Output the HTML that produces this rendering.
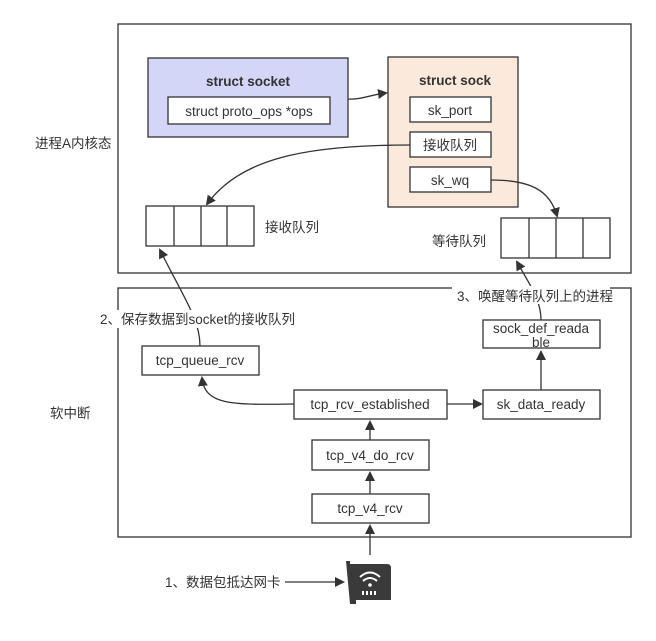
<!DOCTYPE html>
<html><head><meta charset="utf-8"><style>
body{margin:0;background:#fff;width:656px;height:636px;overflow:hidden}
svg text{font-family:"Liberation Sans","Noto Sans CJK SC",sans-serif;font-size:13.5px;fill:#333}
</style></head><body>
<svg width="656" height="636" viewBox="0 0 656 636" xmlns="http://www.w3.org/2000/svg">
<defs><marker id="a" markerWidth="10" markerHeight="10" refX="8" refY="5" orient="auto" markerUnits="userSpaceOnUse"><path d="M0,0 L10,5 L0,10 z" fill="#333"/></marker></defs>
<g fill="none" stroke="#333" stroke-width="1.3">
<rect x="118" y="24" width="513" height="249"/>
<rect x="118" y="288" width="513" height="249"/>
<rect x="148" y="58" width="200" height="79" fill="#d4d6f7"/>
<rect x="168" y="97" width="162" height="27" fill="#fff"/>
<rect x="388" y="57" width="130" height="150" fill="#fbe9db"/>
<rect x="410" y="97" width="81" height="25" fill="#fff"/>
<rect x="410" y="132" width="81" height="25" fill="#fff"/>
<rect x="410" y="167" width="81" height="25" fill="#fff"/>
<rect x="146" y="206" width="108" height="40" fill="#fff"/>
<path d="M174,206V246M201,206V246M227,206V246"/>
<rect x="501" y="218" width="109" height="40" fill="#fff"/>
<path d="M529,218V258M556,218V258M583,218V258"/>
<rect x="142" y="346" width="117" height="29" fill="#fff"/>
<rect x="294" y="390" width="153" height="29" fill="#fff"/>
<rect x="483" y="390" width="117" height="29" fill="#fff"/>
<rect x="483" y="320" width="117" height="28" fill="#fff"/>
<rect x="312" y="440" width="117" height="30" fill="#fff"/>
<rect x="312" y="494" width="117" height="29" fill="#fff"/>
<path d="M348,99 C360,100 370,95 386,93" marker-end="url(#a)"/>
<path d="M410,145 C300,145 240,160 207,204" marker-end="url(#a)"/>
<path d="M491,180 C530,180 550,190 557,216" marker-end="url(#a)"/>
<path d="M200,346 C200,320 185,300 160,250" marker-end="url(#a)"/>
<path d="M541,320 C541,300 530,285 517,262" marker-end="url(#a)"/>
<path d="M294,404 C230,405 205,405 202,378" marker-end="url(#a)"/>
<path d="M447,404H481" marker-end="url(#a)"/>
<path d="M541,390V352" marker-end="url(#a)"/>
<path d="M370,440V422" marker-end="url(#a)"/>
<path d="M370,494V473" marker-end="url(#a)"/>
<path d="M370,555V526" marker-end="url(#a)"/>
<path d="M285,582H343" marker-end="url(#a)"/>
</g>
<rect x="452" y="286" width="158" height="18" fill="#fff"/>
<rect x="98" y="310" width="200" height="18" fill="#fff"/>
<g>
<path d="M346,561 h4 v3 h37 q4,0 4,4 v32 h-35 v4 h-6 z" fill="#3a3a3a"/>
<path d="M360,577 q10,-9 20,0 M363,581 q7,-6 14,0" stroke="#fff" stroke-width="2" fill="none"/>
<circle cx="370" cy="585" r="1.8" fill="#fff"/>
<path d="M362,591h2v4h-2zM366,591h2v4h-2zM370,591h2v4h-2zM374,591h2v4h-2z" fill="#fff"/>
</g>
<text x="248" y="86" text-anchor="middle" font-weight="bold">struct socket</text>
<text x="249" y="116" text-anchor="middle">struct proto_ops *ops</text>
<text x="455" y="85" text-anchor="middle" font-weight="bold">struct sock</text>
<text x="450" y="115" text-anchor="middle">sk_port</text>
<text x="450" y="150" text-anchor="middle">接收队列</text>
<text x="450" y="185" text-anchor="middle">sk_wq</text>
<text x="265" y="232">接收队列</text>
<text x="432" y="246">等待队列</text>
<text x="35" y="148">进程A内核态</text>
<text x="50" y="418">软中断</text>
<text x="200" y="365" text-anchor="middle">tcp_queue_rcv</text>
<text x="370" y="409" text-anchor="middle">tcp_rcv_established</text>
<text x="541" y="409" text-anchor="middle">sk_data_ready</text>
<text x="541" y="333" text-anchor="middle">sock_def_reada</text>
<text x="541" y="347" text-anchor="middle">ble</text>
<text x="370" y="460" text-anchor="middle">tcp_v4_do_rcv</text>
<text x="370" y="513" text-anchor="middle">tcp_v4_rcv</text>
<text x="100" y="324">2、保存数据到socket的接收队列</text>
<text x="457" y="301">3、唤醒等待队列上的进程</text>
<text x="165" y="587">1、数据包抵达网卡</text>
</svg>
</body></html>
